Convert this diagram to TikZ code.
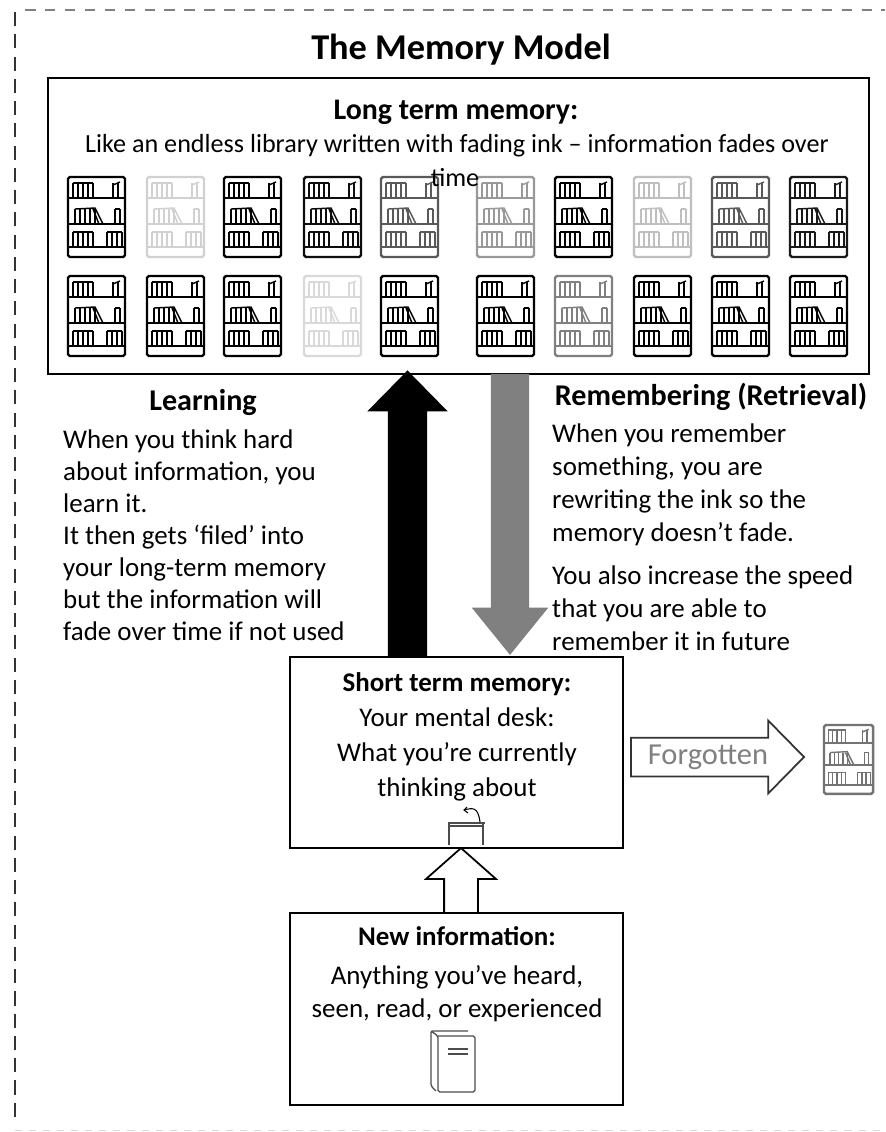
\documentclass[tikz,border=0pt]{standalone}
\usepackage{fontspec}
\setmainfont{Carlito}
\usetikzlibrary{shapes.arrows}
\tikzset{
    membox/.style={draw=black, line width=1.3pt, fill=white, inner sep=0pt},
    headtext/.style={font=\fontsize{23}{28}\selectfont\bfseries, inner sep=0pt},
    bodytext/.style={font=\fontsize{23}{28}\selectfont, inner sep=0pt},
    blockarrow/.style={single arrow, shape border rotate=90, anchor=center},
    bookcase/.pic={
        \draw[line width=2.1pt, rounded corners=1.5pt] (0,0) rectangle (57,80);
        \draw[line width=1.7pt] (0,21) -- (57,21);
        \draw[line width=1.7pt] (0,47) -- (57,47);
        \draw[line width=1.7pt] (0,70) -- (57,70);
        \foreach \bx in {5,10,15,20,25,45,50} {
            \draw[line width=1.2pt] (\bx,21) -- (\bx,6);
        }
        \draw[line width=1.2pt] (5,6) -- (25,6);
        \draw[line width=1.2pt] (45,8) -- (52,5);
        \foreach \bx in {7,12,17,22,27,47,52} {
            \draw[line width=1.2pt] (\bx,47) -- (\bx,32);
        }
        \draw[line width=1.2pt] (7,32) -- (27,31) -- (35,47);
        \draw[line width=1.2pt] (25,32) -- (31,47);
        \draw[line width=1.2pt] (47,32) -- (52,32);
        \foreach \bx in {5,10,15,20,25,39,44,49,54} {
            \draw[line width=1.2pt] (\bx,70) -- (\bx,55);
        }
        \draw[line width=1.2pt] (5,55) -- (25,55);
        \draw[line width=1.2pt] (39,55) -- (54,55);
    }
}
\begin{document}
\begin{tikzpicture}[x=0.03cm, y=-0.03cm]
    \useasboundingbox (0,0) rectangle (885,1132);
    \fill[white] (0,0) rectangle (885,1132);

    % outer dashed frame
    \draw[gray, line width=1.9pt, dash pattern=on 9pt off 8pt] (25,10) -- (885,10);
    \draw[black!80, line width=1.2pt, dash pattern=on 12pt off 7pt] (15,12) -- (15,1122);
    \draw[black!15, line width=0.8pt, dash pattern=on 6pt off 6pt] (15,1130) -- (885,1130);

    \node[inner sep=0pt, font=\fontsize{31}{36}\selectfont\bfseries] (title) at (461,50) {The Memory Model};

    % long term memory
    \node[membox, minimum width=24.63cm, minimum height=8.88cm] (longbox) at (458.5,226) {};
    \node[headtext, font=\fontsize{25.5}{30}\selectfont\bfseries] (longhead) at (456,112) {Long term memory:};
    \node[bodytext, font=\fontsize{22.3}{28}\selectfont] (longtext) at (457,146) {Like an endless library written with fading ink – information fades over};
    \foreach \sx/\ink in {68/100,147/18,224/100,304/95,381/65,477/40,555/100,634/25,712/65,790/90} {
        \pic[color=black!\ink] at (\sx,177) {bookcase};
    }
    \foreach \sx/\ink in {68/100,147/100,224/100,304/15,381/100,477/100,555/50,634/100,712/100,790/100} {
        \pic[color=black!\ink] at (\sx,276) {bookcase};
    }
    \node[bodytext, font=\fontsize{22.3}{28}\selectfont] (longtime) at (455,178) {time};

    % short term memory and new information
    \node[membox, minimum width=9.99cm, minimum height=5.73cm] (shortbox) at (456.5,752.5) {};
    \node[membox, minimum width=9.99cm, minimum height=5.76cm] (newbox) at (456.5,1009) {};

    % up and down arrows
    \node[blockarrow, fill=black, inner sep=0.585cm, minimum height=8.61cm,
        single arrow head extend=0.615cm, single arrow tip angle=89] (learnarrow) at (407.5,524) {};
    \node[blockarrow, fill=gray, shape border rotate=270, inner sep=0.57cm, minimum height=8.43cm,
        single arrow head extend=0.57cm, single arrow tip angle=78] (recallarrow) at (510,502.5) {};
    \node[blockarrow, draw=black, fill=white, line width=1.5pt, inner sep=0.48cm, minimum height=1.95cm,
        single arrow head extend=0.54cm, single arrow tip angle=97] (inarrow) at (461,888) {};
    \node[blockarrow, draw=black!80, fill=white, line width=1.5pt, shape border rotate=0, inner sep=0.555cm, minimum height=5.19cm,
        single arrow head extend=0.51cm, single arrow tip angle=91] (lostarrow) at (708,757) {};
    \node[inner sep=0pt, font=\fontsize{26}{30}\selectfont, text=black!50] (losttext) at (708,757) {Forgotten};
    \pic[color=black!55, scale=0.86] at (824,725) {bookcase};

    % side texts
    \node[headtext, font=\fontsize{25.7}{30}\selectfont\bfseries] (learnhead) at (203,402) {Learning};
    \node[bodytext, font=\fontsize{23}{27.2}\selectfont, align=left, anchor=north west] (learntext) at (63,430) {When you think hard\\about information, you\\learn it.\\It then gets ‘filed’ into\\your long-term memory\\but the information will\\fade over time if not used};
    \node[headtext, font=\fontsize{25.7}{30}\selectfont\bfseries] (recallhead) at (711,397) {Remembering (Retrieval)};
    \node[bodytext, align=left, anchor=north west] (recalltext) at (552,424) {When you remember\\something, you are\\rewriting the ink so the\\memory doesn’t fade.};
    \node[bodytext, align=left, anchor=north west] (speedtext) at (552,566) {You also increase the speed\\that you are able to\\remember it in future};

    % box texts
    \node[headtext] (shorthead) at (457,684) {Short term memory:};
    \node[bodytext, font=\fontsize{23}{29.8}\selectfont, align=center, anchor=north] (shorttext) at (457,708) {Your mental desk:\\What you’re currently\\thinking about};
    \node[headtext] (newhead) at (457,936) {New information:};
    \node[bodytext, align=center, anchor=north] (newtext) at (457,965) {Anything you’ve heard,\\seen, read, or experienced};

    % desk
    \draw[black!70, line width=0.9pt] (448,823) -- (485,823);
    \draw[black!70, line width=0.9pt] (449,826) -- (484,826);
    \draw[black!70, line width=0.9pt] (449,823) -- (449,845);
    \draw[black!70, line width=0.9pt] (483,823) -- (483,845);
    \draw[black, line width=0.9pt] (480,822) .. controls (478,806) and (472,808) .. (464,810);
    \draw[black, line width=0.9pt] (467,807) -- (464,810) -- (468,813);

    % book
    \draw[black!70, line width=1.1pt, rounded corners=1.5pt] (436,1091) -- (431,1086) -- (431,1031) -- (468,1031);
    \draw[black!70, line width=1.1pt, rounded corners=1.5pt] (431,1031) -- (438,1036) -- (438,1092) -- (475,1092) -- (475,1036) -- (438,1036);
    \draw[black!70, line width=1.1pt] (448,1049) -- (468,1049);
    \draw[black!70, line width=1.1pt] (448,1054) -- (468,1054);
\end{tikzpicture}
\end{document}
